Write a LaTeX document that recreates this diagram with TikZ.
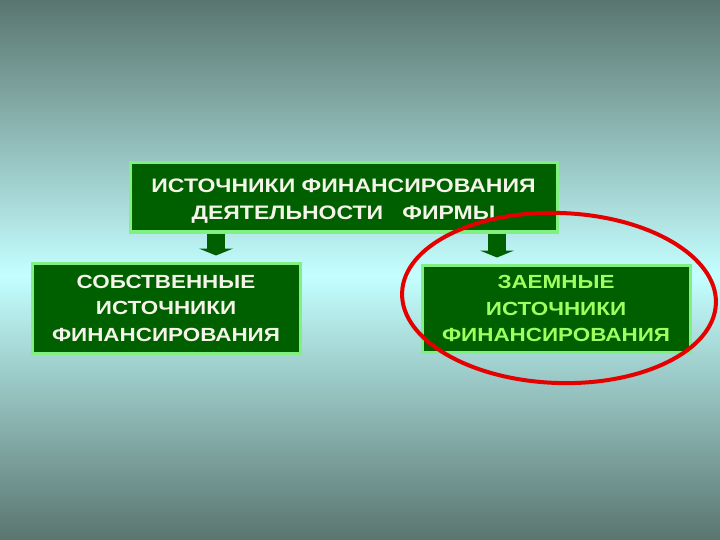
\documentclass[tikz,border=0pt]{standalone}
\usepackage{fontspec}
\setmainfont{Liberation Sans}[FakeStretch=1.18]
\usetikzlibrary{arrows.meta,calc}
\definecolor{bgdark}{HTML}{5A756F}
\definecolor{bglight}{HTML}{C4FFFF}
\definecolor{boxfill}{HTML}{006000}
\definecolor{boxline}{HTML}{80F080}
\definecolor{txtw}{HTML}{F4F4E8}
\definecolor{txtg}{HTML}{A0FF60}
\tikzset{box/.style={rectangle,draw=boxline,fill=boxfill,line width=3pt,inner sep=0pt},
lbl/.style={align=center,inner sep=0pt,font=\bfseries\fontsize{19}{26.5}\selectfont,text=txtw},
fat/.style={draw=boxfill,line width=18pt,-{Triangle[width=34pt,length=7pt]},shorten >=6pt}}
\begin{document}
\begin{tikzpicture}[x=1pt,y=-1pt]
\useasboundingbox (0,0) rectangle (720,540);
\shade[top color=bgdark,bottom color=bglight] (0,0) rectangle (720,275);
\shade[top color=bglight,bottom color=bgdark] (0,275) rectangle (720,540);
\node[box,minimum width=427pt,minimum height=69pt] (src) at (343.5,197.5) {};
\node[lbl,font=\bfseries\fontsize{19.5}{27.5}\selectfont] (srct) at ([yshift=-3.5pt]src.center) {ИСТОЧНИКИ ФИНАНСИРОВАНИЯ\\ДЕЯТЕЛЬНОСТИ\ \ \ ФИРМЫ};
\node[box,minimum width=268pt,minimum height=90pt] (own) at (166,308) {};
\node[lbl] (ownt) at (own.center) {СОБСТВЕННЫЕ\\ИСТОЧНИКИ\\ФИНАНСИРОВАНИЯ};
\node[box,minimum width=268pt,minimum height=87pt] (loan) at (556,308.5) {};
\node[lbl,text=txtg] (loant) at (loan.center) {ЗАЕМНЫЕ\\ИСТОЧНИКИ\\ФИНАНСИРОВАНИЯ};
\draw[fat] ([xshift=-127.5pt]src.south) -- ([xshift=-127.5pt]src.south |- own.north);
\draw[fat] ([xshift=153.5pt]src.south) -- ([xshift=153.5pt]src.south |- loan.north);
\draw[red!90!black,line width=4pt,rotate around={-2:(559,298)}] (559,298) ellipse (157 and 85);
\end{tikzpicture}
\end{document}
